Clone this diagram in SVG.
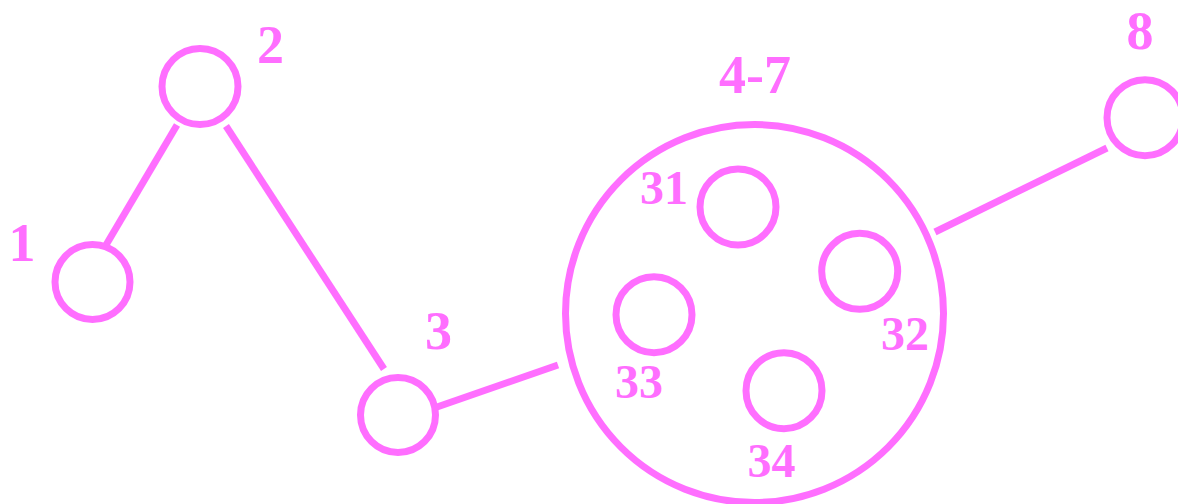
<svg xmlns="http://www.w3.org/2000/svg" width="1178" height="504" viewBox="0 0 1178 504">
<style>
.n{fill:none;stroke:#ff6eff;stroke-width:7}
.e{stroke:#ff6eff;stroke-width:7;fill:none}
.t{font-family:"Liberation Serif","Times New Roman",serif;font-weight:bold;fill:#ff6eff;text-anchor:middle}
.o{font-size:54px}
.i{font-size:48px}
</style>
<rect width="1178" height="504" fill="#fff"/>
<g id="connectors">
<line class="e" x1="106" y1="245" x2="177" y2="125"/>
<line class="e" x1="226" y1="126" x2="384" y2="369"/>
<line class="e" x1="437" y1="407" x2="558" y2="365"/>
<line class="e" x1="935" y1="232" x2="1107" y2="148"/>
</g>
<g id="node1"><circle class="n" cx="92.5" cy="282" r="37.5"/><text class="t o" x="22" y="261">1</text></g>
<g id="node2"><circle class="n" cx="200" cy="86.5" r="38"/><text class="t o" x="270.5" y="63">2</text></g>
<g id="node3"><circle class="n" cx="398" cy="415" r="37.5"/><text class="t o" x="438.5" y="349">3</text></g>
<g id="node4-7"><circle class="n" cx="754.5" cy="313.5" r="189"/><text class="t o" x="755" y="93">4-7</text></g>
<g id="node31"><circle class="n" cx="738" cy="207" r="38"/><text class="t i" x="664" y="204">31</text></g>
<g id="node32"><circle class="n" cx="859.7" cy="271.3" r="38"/><text class="t i" x="905" y="350">32</text></g>
<g id="node33"><circle class="n" cx="654" cy="314.7" r="38"/><text class="t i" x="639" y="398">33</text></g>
<g id="node34"><circle class="n" cx="784" cy="390.7" r="38"/><text class="t i" x="771.5" y="477">34</text></g>
<g id="node8"><circle class="n" cx="1145" cy="117.7" r="38"/><text class="t o" x="1140" y="49">8</text></g>
</svg>
